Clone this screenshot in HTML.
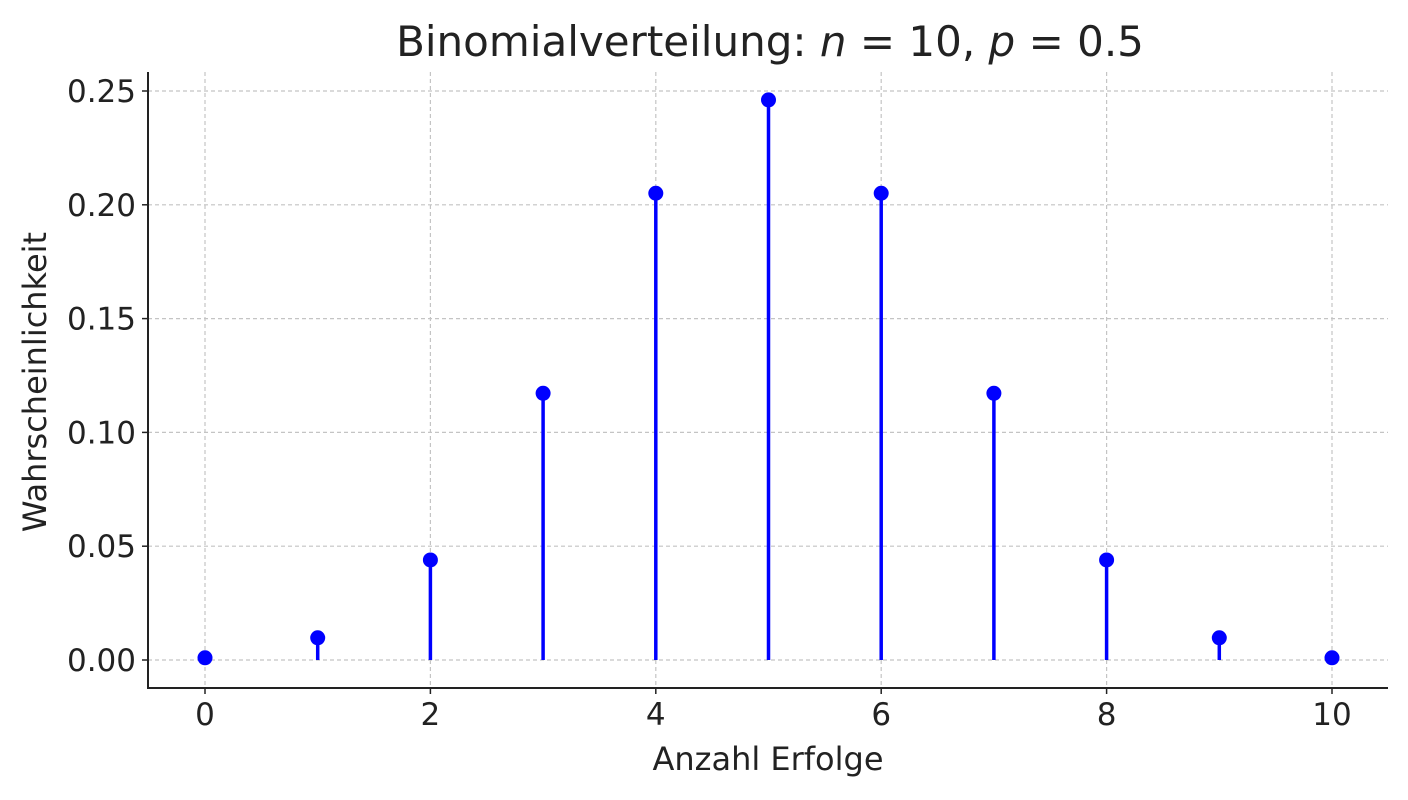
<!DOCTYPE html>
<html><head><meta charset="utf-8"><style>
body{margin:0;background:#fff;}
svg text{font-family:"DejaVu Sans","Liberation Sans",sans-serif;fill:#222;}
</style></head><body>
<svg id="chart" width="1408" height="795">
<g id="grid"></g>
<g id="stems"></g>
<g id="axes"></g>
<text x="770" y="56" font-size="42" text-anchor="middle">Binomialverteilung: <tspan font-style="italic">n</tspan> = 10, <tspan font-style="italic">p</tspan> = 0.5</text>
<text x="768" y="770" font-size="32" text-anchor="middle">Anzahl Erfolge</text>
<text transform="translate(46,382) rotate(-90)" font-size="32" text-anchor="middle">Wahrscheinlichkeit</text>
</svg>
<script>
const categories=[0,1,2,3,4,5,6,7,8,9,10];
const probabilities=[0.000977,0.009766,0.043945,0.117188,0.205078,0.246094,0.205078,0.117188,0.043945,0.009766,0.000977];
const xTicks=[0,2,4,6,8,10];
const yTicks=[0,0.05,0.10,0.15,0.20,0.25];
const yTickLabels=["0.00","0.05","0.10","0.15","0.20","0.25"];
const NS="http://www.w3.org/2000/svg";
const X=v=>205+v*112.7;
const Y=v=>660-v*2276;
function mk(tag,attrs,parent,text){const e=document.createElementNS(NS,tag);for(const k in attrs)e.setAttribute(k,attrs[k]);if(text!==undefined)e.textContent=text;parent.appendChild(e);return e;}
const grid=document.getElementById('grid'),stems=document.getElementById('stems'),axes=document.getElementById('axes');
xTicks.forEach(t=>{
 const g=mk('line',{x1:X(t),x2:X(t),y1:72,y2:688,stroke:'#c4c4c4','stroke-width':1.2,'stroke-dasharray':'4,3'},grid);
 
 
 const tk=mk('line',{x1:X(t),x2:X(t),y1:688,y2:694,stroke:'#222','stroke-width':1.5},axes);
 
 
 const l=mk('text',{x:X(t),y:725,'font-size':31,'text-anchor':'middle'},axes,String(t));
 
 
});
yTicks.forEach((t,i)=>{
 const g=mk('line',{x1:148,x2:1388,y1:Y(t),y2:Y(t),stroke:'#c4c4c4','stroke-width':1.2,'stroke-dasharray':'4,3'},grid);
 
 
 const tk=mk('line',{x1:142,x2:148,y1:Y(t),y2:Y(t),stroke:'#222','stroke-width':1.5},axes);
 
 
 const l=mk('text',{x:136,y:Y(t)+11,'font-size':31,'text-anchor':'end'},axes,yTickLabels[i]);
 
 
});
categories.forEach((c,i)=>{
 const s=mk('line',{x1:X(c),x2:X(c),y1:Y(0),y2:Y(probabilities[i]),stroke:'#0000ff','stroke-width':3.5},stems);
 
 
 const m=mk('circle',{cx:X(c),cy:Y(probabilities[i]),r:7.5,fill:'#0000ff'},stems);
 
 
});
const ls=mk('line',{x1:148,x2:148,y1:72,y2:688,stroke:'#222','stroke-width':2},axes);


const bs=mk('line',{x1:147,x2:1388,y1:688,y2:688,stroke:'#222','stroke-width':2},axes);


</script>
</body></html>
